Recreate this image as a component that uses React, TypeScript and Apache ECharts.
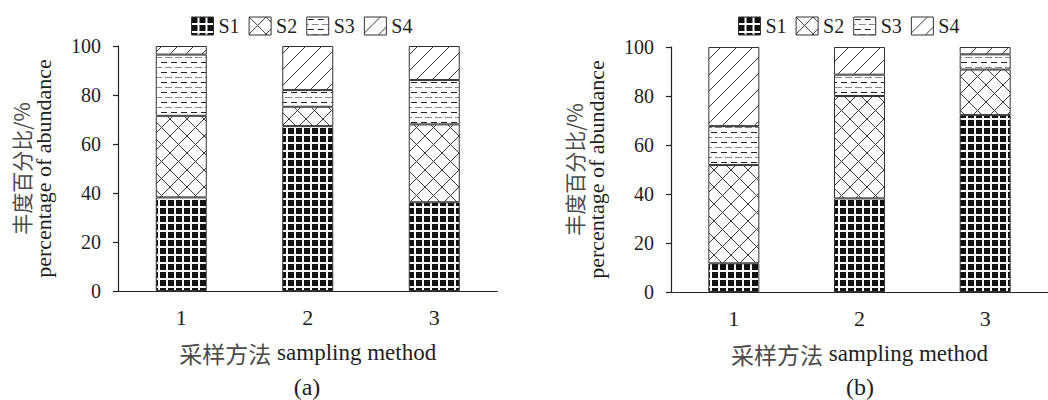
import React, { useEffect, useRef } from "react";
import * as echarts from "echarts";

const categories = ["1", "2", "3"];
const seriesNames = ["S1", "S2", "S3", "S4"];
const yTicks = [0, 20, 40, 60, 80, 100];
// panel (a): segment sizes per sampling method
const aS1 = [38.2, 67.3, 36.2];
const aS2 = [33.3, 7.9, 31.8];
const aS3 = [25.0, 6.8, 18.1];
const aS4 = [3.5, 18.0, 13.9];
// panel (b)
const bS1 = [11.7, 38.2, 72.2];
const bS2 = [40.1, 41.8, 18.6];
const bS3 = [15.9, 8.7, 6.2];
const bS4 = [32.3, 11.3, 3.0];
const panelLabels = ["(a)", "(b)"];
const xAxisTitleCn = "采样方法";
const xAxisTitleEn = "sampling method";
const yAxisTitleCn = "丰度百分比/%";
const yAxisTitleEn = "percentage of abundance";

const FONT = "Liberation Serif, Times New Roman, Noto Sans CJK SC, serif";
const CJK = "Noto Sans CJK SC, sans-serif";
const INK = "#1e1e1e";

function makeTile(kind: string) {
  const c = document.createElement("canvas");
  let w = 8, h = 8;
  if (kind === "S1") { w = 8; h = 8; }
  if (kind === "S2") { w = 17; h = 17; }
  if (kind === "S3") { w = 10; h = 10; }
  if (kind === "S4") { w = 16; h = 16; }
  c.width = w; c.height = h;
  const ctx = c.getContext("2d")!;
  ctx.fillStyle = "#ffffff";
  ctx.fillRect(0, 0, w, h);
  if (kind === "S1") {
    ctx.fillStyle = "#111111";
    ctx.fillRect(0, 0, 6, 6);
  } else if (kind === "S2") {
    ctx.strokeStyle = "#3a3a3a";
    ctx.lineWidth = 1;
    ctx.beginPath();
    ctx.moveTo(-2, -2); ctx.lineTo(w + 2, h + 2);
    ctx.moveTo(-2, h + 2); ctx.lineTo(w + 2, -2);
    ctx.stroke();
  } else if (kind === "S3") {
    ctx.fillStyle = "#222222";
    ctx.fillRect(1, 2, 6, 1);
    ctx.fillStyle = "#8a8a8a";
    ctx.fillRect(0, 7, 2, 1);
    ctx.fillRect(5, 7, 5, 1);
  } else if (kind === "S4") {
    ctx.strokeStyle = "#3a3a3a";
    ctx.lineWidth = 1;
    ctx.beginPath();
    ctx.moveTo(-2, h + 2); ctx.lineTo(w + 2, -2);
    ctx.stroke();
  }
  return { image: c, repeat: "repeat", imageWidth: w, imageHeight: h } as any;
}

export default function App() {
  const ref = useRef<HTMLDivElement>(null);
  useEffect(() => {
    if (!ref.current) return;
    const chart = echarts.init(ref.current, null, { renderer: "svg" });
    const patterns: any = {};
    seriesNames.forEach((n) => (patterns[n] = makeTile(n)));
    const panels = [
      { data: [aS1, aS2, aS3, aS4], grid: { left: 118, top: 46, width: 379.5, height: 245 } },
      { data: [bS1, bS2, bS3, bS4], grid: { left: 671, top: 47, width: 384, height: 245 } },
    ];
    const yMin = yTicks[0];
    const yMax = yTicks[yTicks.length - 1];
    const yInt = yTicks[1] - yTicks[0];

    const series: any[] = [];
    panels.forEach((p, pi) => {
      p.data.forEach((vals, si) => {
        series.push({
          type: "bar",
          name: seriesNames[si],
          xAxisIndex: pi,
          yAxisIndex: pi,
          stack: "p" + pi,
          barWidth: 51,
          data: vals,
          itemStyle: { color: patterns[seriesNames[si]], borderColor: "#333", borderWidth: 1 },
          emphasis: { disabled: true },
        });
      });
    });

    chart.setOption({
      animation: false,
      textStyle: { fontFamily: FONT },
      grid: panels.map((p) => ({ ...p.grid, containLabel: false })),
      legend: [
        { left: 186, top: 11 },
        { left: 733, top: 11 },
      ].map((l) => ({
        ...l,
        data: seriesNames,
        icon: "rect",
        itemWidth: 22,
        itemHeight: 18,
        itemGap: 9,
        selectedMode: false,
        itemStyle: { borderColor: "#333", borderWidth: 1 },
        textStyle: { fontFamily: FONT, fontSize: 20, color: INK, padding: [2, 0, 0, 0] },
      })),
      title: panelLabels.map((t, i) => ({
        text: t,
        left: i === 0 ? 307 : 860,
        top: 375,
        padding: 0,
        textAlign: "center",
        textStyle: { fontFamily: FONT, fontSize: 24, fontWeight: "normal", color: INK, lineHeight: 24 },
      })),
      xAxis: panels.map((p, i) => ({
        type: "category",
        gridIndex: i,
        data: categories,
        name: "{cn|" + xAxisTitleCn + "} {en|" + xAxisTitleEn + "}",
        nameLocation: "middle",
        nameGap: 50,
        nameTextStyle: {
          fontFamily: FONT,
          fontSize: 23,
          color: INK,
          rich: {
            cn: { fontFamily: CJK, fontSize: 23, color: "#4a4a4a", fontWeight: "normal" },
            en: { fontFamily: FONT, fontSize: 23, color: INK },
          },
        },
        axisLine: { lineStyle: { color: "#222", width: 1.2 } },
        axisTick: { inside: true, length: 7, lineStyle: { color: "#222", width: 1.2 } },
        axisLabel: { fontFamily: FONT, fontSize: 22, color: INK, margin: 15 },
        splitLine: { show: false },
      })),
      yAxis: panels.map((p, i) => ({
        type: "value",
        gridIndex: i,
        min: yMin,
        max: yMax,
        interval: yInt,
        name: "{cn|" + yAxisTitleCn + "}\n{en|" + yAxisTitleEn + "}",
        nameLocation: "middle",
        nameRotate: 90,
        nameGap: 64,
        nameTextStyle: {
          fontFamily: FONT,
          fontSize: 22,
          color: INK,
          lineHeight: 22,
          rich: {
            cn: { fontFamily: CJK, fontSize: 21, color: "#4a4a4a", lineHeight: 23 },
            en: { fontFamily: FONT, fontSize: 22, color: INK, lineHeight: 22 },
          },
        },
        axisLine: { show: true, lineStyle: { color: "#222", width: 1.2 } },
        axisTick: { show: true, inside: false, length: 5, lineStyle: { color: "#222", width: 1.2 } },
        axisLabel: { fontFamily: FONT, fontSize: 20, color: INK, margin: 17 },
        splitLine: { show: false },
      })),
      series,
    });
    return () => chart.dispose();
  }, []);
  return (
    <div style={{ position: "absolute", left: 0, top: 0, width: 1048, height: 400, overflow: "hidden", background: "#fff" }}>
      <div ref={ref} style={{ width: 1048, height: 400 }} />
    </div>
  );
}
